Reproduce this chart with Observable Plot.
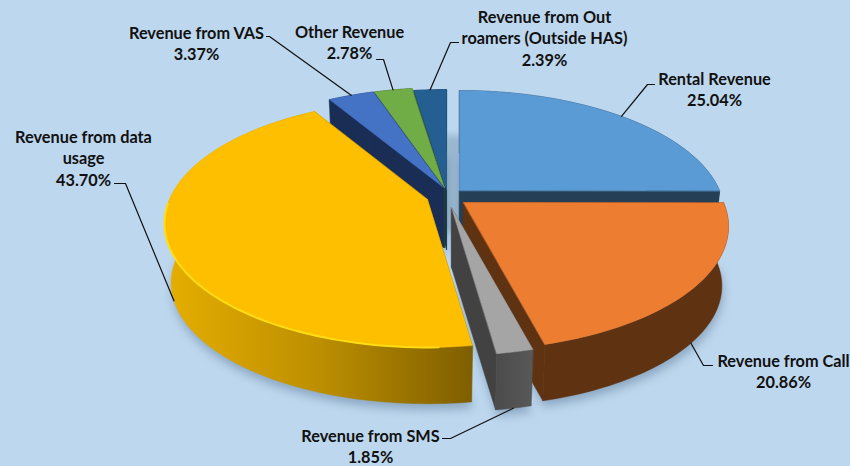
<!DOCTYPE html>
<html>
<head>
<meta charset="utf-8">
<style>
html,body{margin:0;padding:0;background:#bdd7ee;overflow:hidden}
svg{display:block}
</style>
<script src="https://cdn.jsdelivr.net/npm/d3@7"></script>
<script src="https://cdn.jsdelivr.net/npm/@observablehq/plot@0.6"></script>
</head>
<body>
<div id="chart"></div>
<script>
// --- data ---
const categories = ["Rental Revenue","Revenue from Call","Revenue from SMS","Revenue from data usage","Revenue from VAS","Other Revenue","Revenue from Out roamers (Outside HAS)"];
const shares = [25.04,20.86,1.85,43.70,3.37,2.78,2.39];

// --- styling ---
const topColors  = ["#5b9bd5","#ed7d31","#a5a5a5","#fdbf00","#4472c4","#70ad47","#255e91"];
const sideColors = ["#254056","#5f3212","url(#greySide)","url(#yellowSide)","#1a2d55","#2f4a1d","#143350"];
const radialColors = ["#254056","#5f3212","#424242","#836100","#1a2d55","#2f4a1d","#143350"];

// --- layout of the exploded 3-D pie ---
const apexX = [459,463,451,427,443,444,446];
const apexY = [190,202,207,199,187,187,189];
const radii = [260,260,260,258,260,260,260];
const paintOrder = [0,6,5,4,3,1,2];
const tilt = 119.3, camera = 5.17, depth = 60, shrink = 0.975;

const labelLines = [["Rental Revenue"],["Revenue from Call"],["Revenue from SMS"],["Revenue from data","usage"],["Revenue from VAS"],["Other Revenue"],["Revenue from Out","roamers (Outside HAS)"]];
const labelX = [714,783,370,83,196,349,544];
const labelY = [79,361,436,137,33,32,17];
const elbowX = [647,703,450,125,269,383,450];
const elbowY = [84,365,438,183,36,59,42];
const endX = [654,712,442,114,266,376,458];
const endY = [84,365,438,183,36,59,42];

// --- geometry derived from the shares ---
const total = d3.sum(shares);
const cum = d3.cumsum(shares);
const startA = shares.map((_, i) => (i ? cum[i-1] : 0) / total * 360);
const endA = Array.from(cum, c => c / total * 360);

function topPt(i, a) {
  const t = a * Math.PI / 180, X = Math.sin(t), Y = -Math.cos(t), s = camera / (camera - Y);
  return {x: apexX[i] + X * radii[i] * s, y: apexY[i] + Y * tilt * s};
}
function bottomPt(i, a) {
  const p = topPt(i, a);
  return {x: apexX[i] + shrink * (p.x - apexX[i]), y: apexY[i] + depth + shrink * (p.y - apexY[i])};
}
const arc = (i, f, a0 = startA[i], a1 = endA[i]) => d3.range(0, 61).map(k => f(i, a0 + (a1 - a0) * k / 60));

const apexTop = i => ({x: apexX[i], y: apexY[i]});
const apexBottom = i => ({x: apexX[i], y: apexY[i] + depth});

const marks = [];
const poly = (pts, fill) => Plot.line(pts, {x: "x", y: "y", fill, stroke: fill, strokeWidth: 0.5, curve: "linear-closed"});

// gradients for the lit side walls
marks.push(() => {
  const defs = d3.create("svg:defs");
  const grad = (id, x1, x2, stops) => {
    const g = defs.append("linearGradient").attr("id", id).attr("gradientUnits", "userSpaceOnUse")
      .attr("x1", x1).attr("x2", x2).attr("y1", 0).attr("y2", 0);
    stops.forEach(([o, c]) => g.append("stop").attr("offset", o).attr("stop-color", c));
  };
  grad("yellowSide", 165, 470, [[0,"#e6ae00"],[0.5,"#bd8f00"],[1,"#7f5f00"]]);
  grad("greySide", 497, 532, [[0,"#4c4c4c"],[1,"#585858"]]);
  return defs.node();
});

// soft shadow
const shadow = (i, dx, dy, blur, op) => Plot.line([apexBottom(i), ...arc(i, bottomPt)].map(p => ({x: p.x + dx, y: p.y + dy})),
  {x: "x", y: "y", fill: "#5c7a98", fillOpacity: op, curve: "linear-closed", imageFilter: `blur(${blur}px)`});
paintOrder.forEach(i => marks.push(shadow(i, 1, 6, 5, 0.5)));
marks.push(shadow(0, -16, -18, 3, 0.35));

// slices, back to front
paintOrder.forEach(i => {
  [startA[i], endA[i]].forEach(a => {
    marks.push(poly([apexTop(i), topPt(i, a), bottomPt(i, a), apexBottom(i)], radialColors[i]));
  });
  marks.push(poly([...arc(i, topPt), ...arc(i, bottomPt).reverse()], sideColors[i]));
  marks.push(poly([apexTop(i), ...arc(i, topPt)], topColors[i]));
});

// bright rim on the front of the large slice
marks.push(Plot.line(arc(3, topPt, 178, 268), {x: "x", y: "y", stroke: "#ffdc14", strokeWidth: 2, imageFilter: "blur(0.6px)"}));

// leaders: anchored on the slice at its mid-angle
const anchor = i => {
  const a = (startA[i] + endA[i]) / 2;
  return (a > 90 && a < 270) ? bottomPt(i, a) : topPt(i, a);
};
categories.forEach((_, i) => {
  marks.push(Plot.line([anchor(i), {x: elbowX[i], y: elbowY[i]}, {x: endX[i], y: endY[i]}],
    {x: "x", y: "y", stroke: "#111", strokeWidth: 1.2}));
});

// labels
const font = {fontFamily: "Lato, 'Open Sans', sans-serif", fontWeight: 700, fontSize: 16.3, fill: "#111"};
categories.forEach((_, i) => {
  const lines = [...labelLines[i], shares[i].toFixed(2) + "%"];
  lines.forEach((line, j) => {
    marks.push(Plot.text([line], {x: () => labelX[i], y: () => labelY[i] + j * 21.6, text: d => d, ...font}));
  });
});

const chart = Plot.plot({
  width: 850, height: 466,
  margin: 0,
  x: {domain: [0, 850], range: [0, 850], axis: null},
  y: {domain: [0, 466], range: [0, 466], axis: null},
  style: {background: "#bdd7ee"},
  marks
});
document.getElementById("chart").append(chart);
</script>
</body>
</html>
